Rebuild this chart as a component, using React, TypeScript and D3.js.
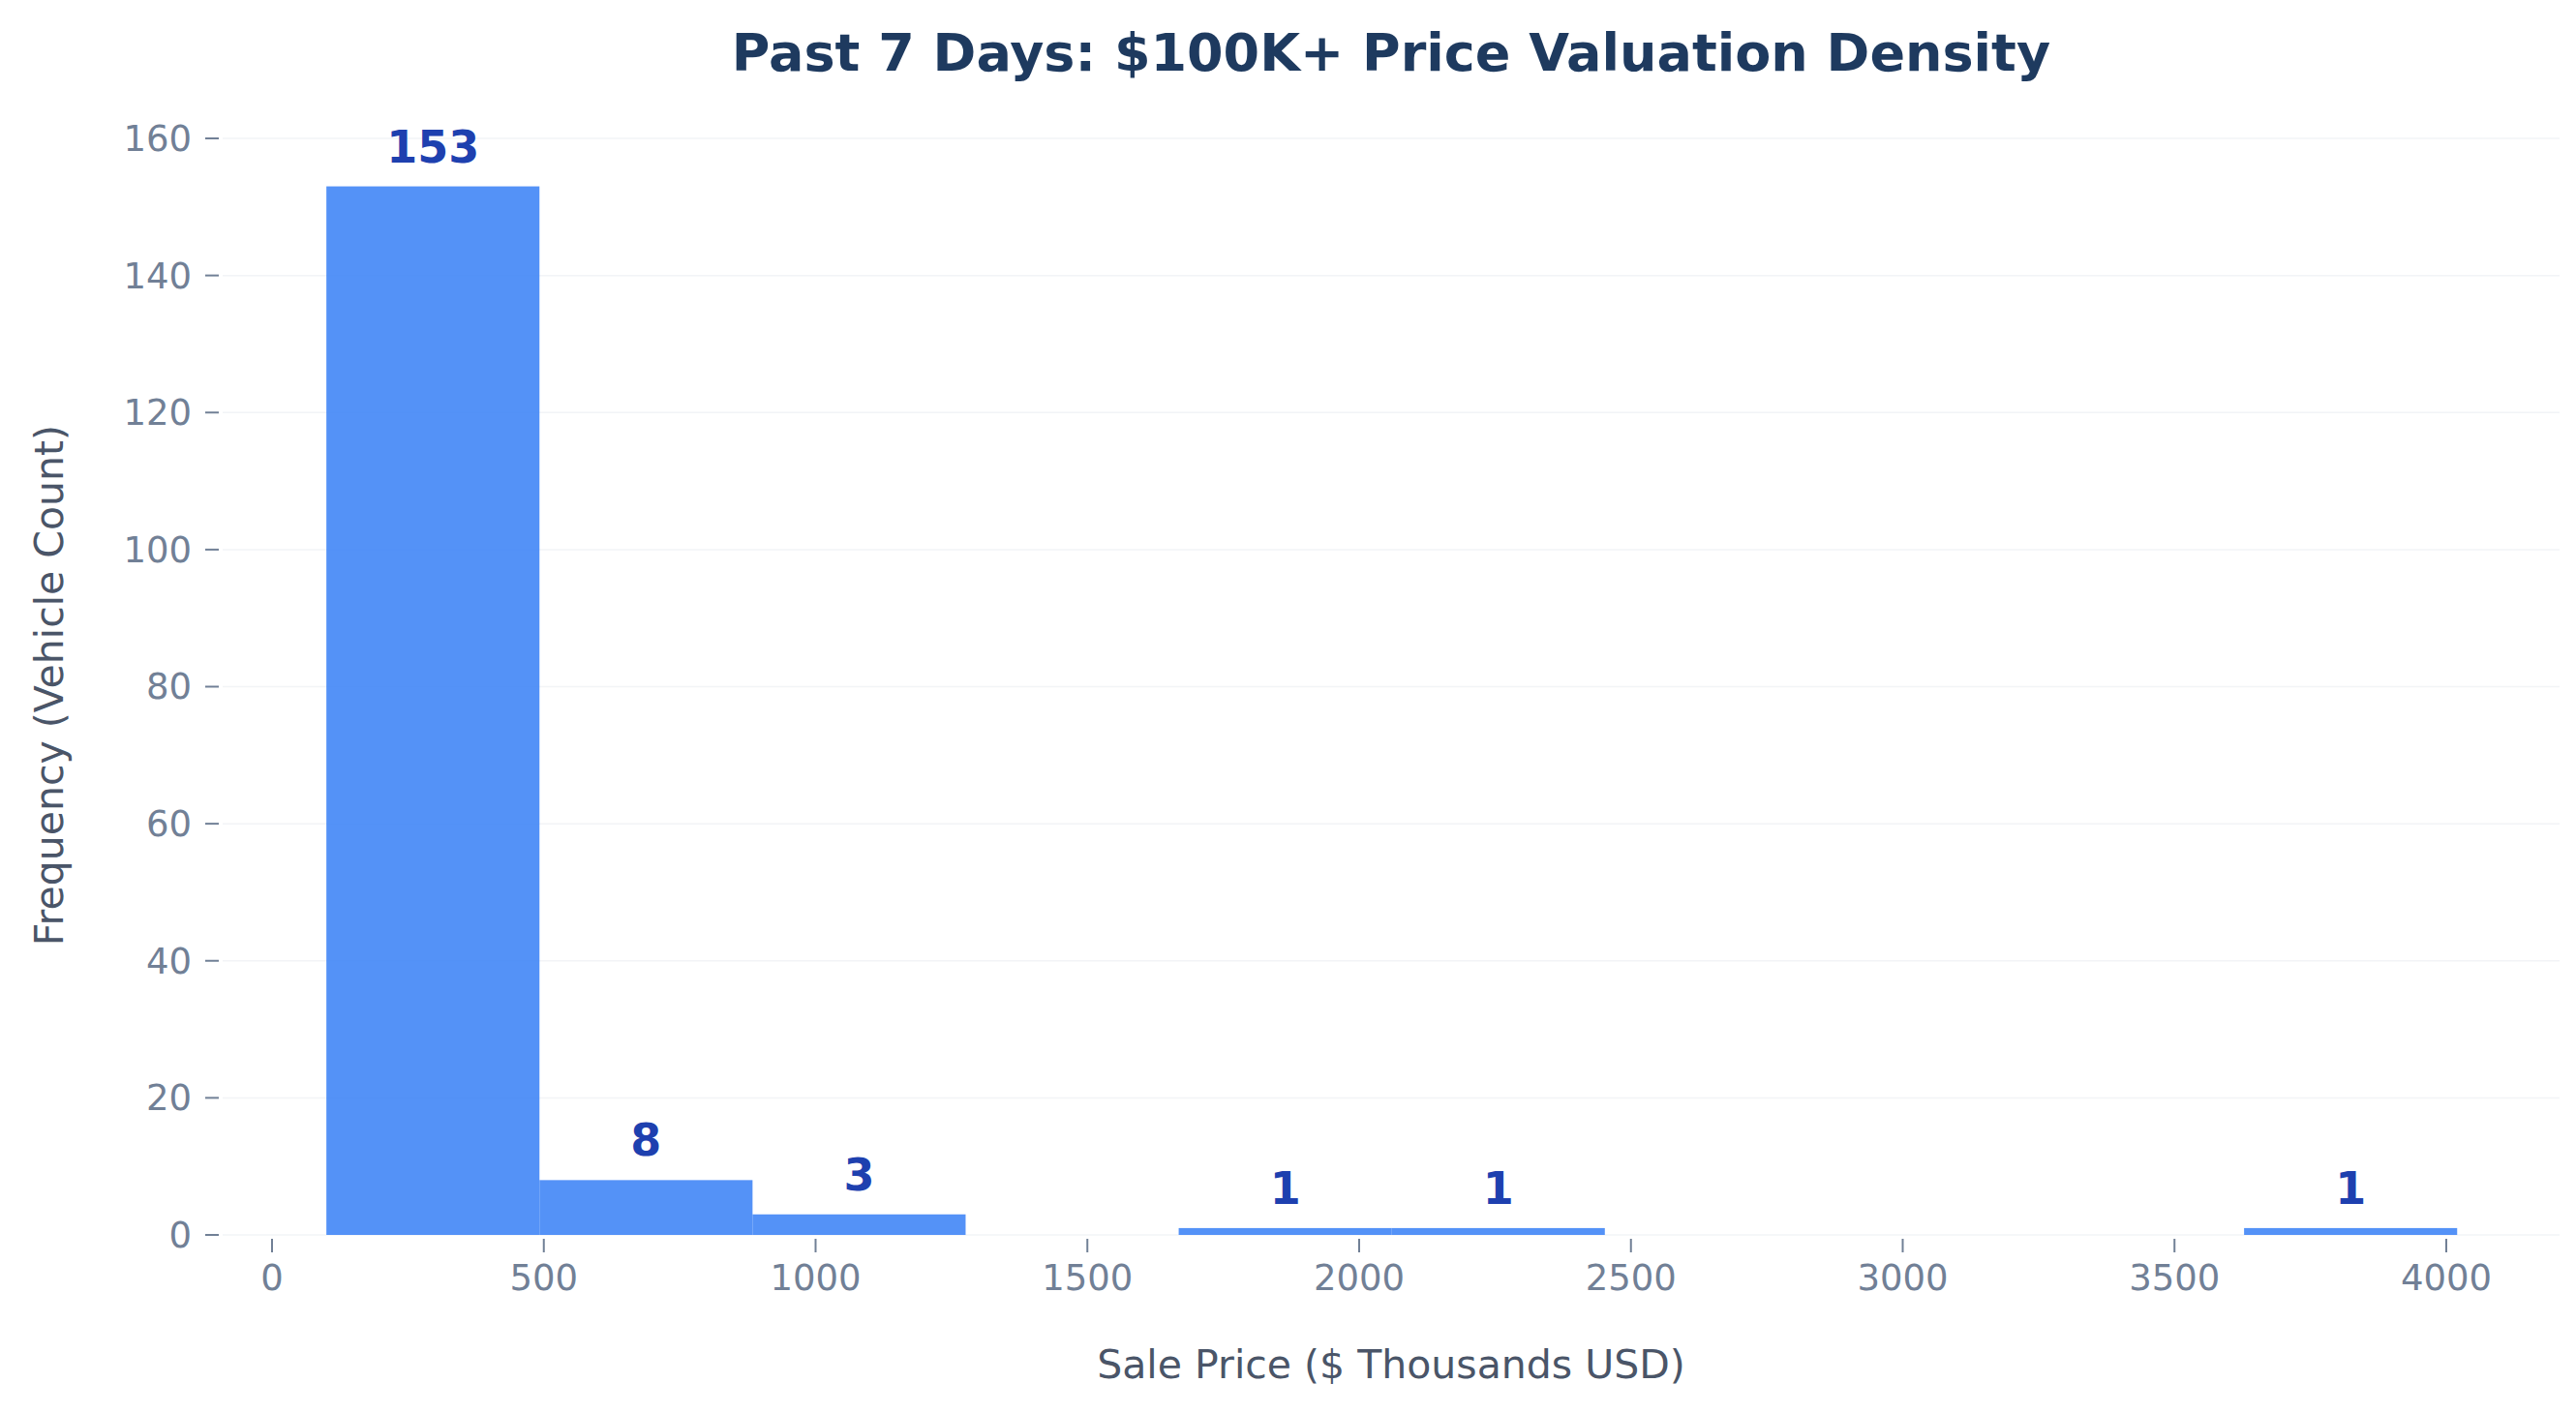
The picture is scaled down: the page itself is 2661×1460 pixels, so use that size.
import React from "react";
import * as d3 from "d3";

const binEdges = [100, 492, 884, 1276, 1668, 2060, 2452, 2844, 3236, 3628, 4020];
const counts = [153, 8, 3, 0, 1, 1, 0, 0, 0, 1];
const xTicks = [0, 500, 1000, 1500, 2000, 2500, 3000, 3500, 4000];
const yTicks = [0, 20, 40, 60, 80, 100, 120, 140, 160];

export default function App() {
  const W = 2661, H = 1460;
  const x = d3.scaleLinear().domain([0, 4000]).range([281, 2527]);
  const y = d3.scaleLinear().domain([0, 160]).range([1276, 143]);
  const font = "DejaVu Sans";
  return (
    <svg width={W} height={H} style={{ display: "block", position: "absolute", left: 0, top: 0 }} fontFamily={font}>
      <rect width={W} height={H} fill="#fff" />
      {yTicks.map((t) => (
        <g key={t}>
          <line x1={230} x2={2644} y1={y(t)} y2={y(t)} stroke="#edf0f4" strokeWidth={1.5} opacity={0.7} />
          <line x1={212} x2={226} y1={y(t)} y2={y(t)} stroke="#718096" strokeWidth={2} />
          <text x={198} y={y(t)} dy="0.35em" textAnchor="end" fontSize={37} fill="#718096">{t}</text>
        </g>
      ))}
      {xTicks.map((t) => (
        <g key={t}>
          <line x1={x(t)} x2={x(t)} y1={1280} y2={1294} stroke="#718096" strokeWidth={2} />
          <text x={x(t)} y={1320} dy="0.35em" textAnchor="middle" fontSize={37} fill="#718096">{t}</text>
        </g>
      ))}
      {counts.map((c, i) => c > 0 && (
        <g key={i}>
          <rect x={x(binEdges[i])} width={x(binEdges[i + 1]) - x(binEdges[i])} y={y(c)} height={y(0) - y(c)} fill="#3b82f6" opacity={0.87} />
          <text x={(x(binEdges[i]) + x(binEdges[i + 1])) / 2} y={y(c) - 25} textAnchor="middle" fontSize={46} fontWeight="bold" fill="#1e40af">{c}</text>
        </g>
      ))}
      <text x={1437} y={73} textAnchor="middle" fontSize={54} fontWeight="bold" fill="#1e3a5f">Past 7 Days: $100K+ Price Valuation Density</text>
      <text x={1437} y={1410} dy="0.35em" textAnchor="middle" fontSize={41} fill="#4a5568">Sale Price ($ Thousands USD)</text>
      <text transform={`translate(51,708) rotate(-90)`} dy="0.35em" textAnchor="middle" fontSize={41} fill="#4a5568">Frequency (Vehicle Count)</text>
    </svg>
  );
}
